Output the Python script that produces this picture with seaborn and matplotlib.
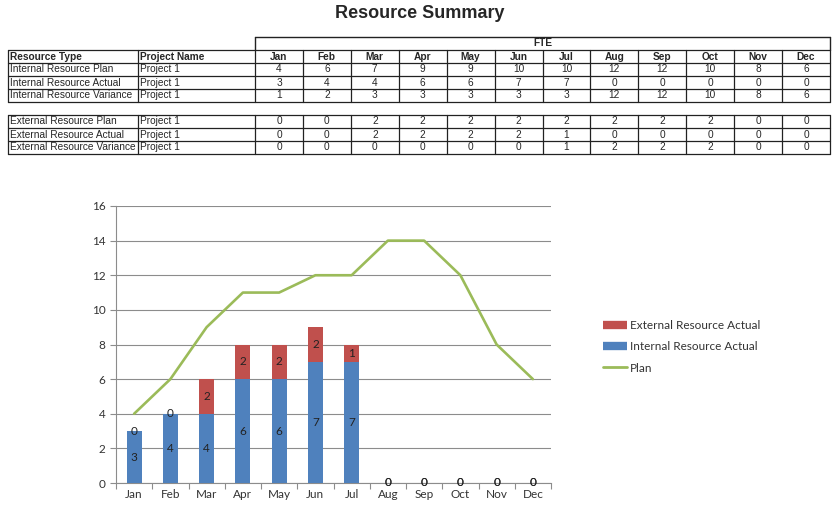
import numpy as np
import matplotlib
matplotlib.use('Agg')
import matplotlib.pyplot as plt
from matplotlib.lines import Line2D
import seaborn as sns

# table / chart data
months = ['Jan', 'Feb', 'Mar', 'Apr', 'May', 'Jun', 'Jul', 'Aug', 'Sep', 'Oct', 'Nov', 'Dec']
row_names_int = ['Internal Resource Plan', 'Internal Resource Actual', 'Internal Resource Variance']
row_names_ext = ['External Resource Plan', 'External Resource Actual', 'External Resource Variance']
project = 'Project 1'

int_plan = [4, 6, 7, 9, 9, 10, 10, 12, 12, 10, 8, 6]
int_actual = [3, 4, 4, 6, 6, 7, 7, 0, 0, 0, 0, 0]
int_var = [1, 2, 3, 3, 3, 3, 3, 12, 12, 10, 8, 6]
ext_plan = [0, 0, 2, 2, 2, 2, 2, 2, 2, 2, 0, 0]
ext_actual = [0, 0, 2, 2, 2, 2, 1, 0, 0, 0, 0, 0]
ext_var = [0, 0, 0, 0, 0, 0, 1, 2, 2, 2, 0, 0]
plan_total = [4, 6, 9, 11, 11, 12, 12, 14, 14, 12, 8, 6]

RED = '#C0504D'
BLUE = '#4F81BD'
GREEN = '#9BBB59'

sns.set_style('white')
plt.rcParams['font.family'] = ['Liberation Sans', 'DejaVu Sans']

fig = plt.figure(figsize=(8.4, 5.17), dpi=100)

# ---- table drawn in pixel coordinates ----
tax = fig.add_axes([0, 0, 1, 1])
tax.set_xlim(0, 840)
tax.set_ylim(517, 0)
tax.axis('off')

tax.text(420, 13, 'Resource Summary', ha='center', va='center', fontsize=13, fontweight='bold')

x_left, x_proj, x_m0, x_right = 8, 138, 255, 830
m_edges = np.linspace(x_m0, x_right, 13)
m_centers = (m_edges[:-1] + m_edges[1:]) / 2
lc = '#222222'
fs_tab = 7.3

# FTE header
tax.plot([x_m0, x_right], [37, 37], color=lc, lw=1.0)
tax.plot([x_m0, x_m0], [37, 50], color=lc, lw=1.0)
tax.plot([x_right, x_right], [37, 50], color=lc, lw=1.0)
tax.text((x_m0 + x_right) / 2, 43.5, 'FTE', ha='center', va='center', fontsize=fs_tab, fontweight='bold')


def draw_block(top, rows, values, header=False):
    n = len(rows)
    ys = [top + 13 * i for i in range(n + 1)]
    for y in ys:
        tax.plot([x_left, x_right], [y, y], color=lc, lw=0.9)
    for x in [x_left, x_proj] + list(m_edges):
        tax.plot([x, x], [ys[0], ys[-1]], color=lc, lw=0.9)
    for i, (name, vals) in enumerate(zip(rows, values)):
        yc = (ys[i] + ys[i + 1]) / 2
        fw = 'bold' if header and i == 0 else 'normal'
        tax.text(x_left + 2, yc, name, ha='left', va='center', fontsize=fs_tab, fontweight=fw)
        tax.text(x_proj + 2, yc, vals[0], ha='left', va='center', fontsize=fs_tab, fontweight=fw)
        for xc, v in zip(m_centers, vals[1]):
            tax.text(xc, yc, str(v), ha='center', va='center', fontsize=fs_tab, fontweight=fw)


draw_block(50,
           ['Resource Type'] + row_names_int,
           [('Project Name', months), (project, int_plan), (project, int_actual), (project, int_var)],
           header=True)
draw_block(115,
           row_names_ext,
           [(project, ext_plan), (project, ext_actual), (project, ext_var)])

# ---- chart ----
plt.rcParams['font.family'] = ['Lato', 'DejaVu Sans']
ax = fig.add_axes([116 / 840, 1 - 483 / 517, 435 / 840, 277 / 517])
ax.set_facecolor('none')

pos = np.arange(len(months))
sns.barplot(x=months, y=int_actual, color=BLUE, width=0.41, saturation=1, ax=ax,
            zorder=3, edgecolor='none', linewidth=0)
sns.barplot(x=months, y=ext_actual, bottom=int_actual, color=RED, width=0.41, saturation=1, ax=ax,
            zorder=3, edgecolor='none', linewidth=0)
sns.lineplot(x=pos, y=plan_total, color=GREEN, lw=1.9, ax=ax, zorder=4)

for i in pos:
    ax.text(i, int_actual[i] / 2, str(int_actual[i]), ha='center', va='center',
            fontsize=8.5, color='#222222', zorder=5)
    ax.text(i, int_actual[i] + ext_actual[i] / 2, str(ext_actual[i]), ha='center', va='center',
            fontsize=8.5, color='#222222', zorder=5)

ax.set_xlim(-0.5, 11.5)
ax.set_ylim(0, 16)
ax.set_yticks(range(0, 17, 2))
ax.set_xticks(pos)
ax.set_xticklabels(months)
ax.set_xticks(np.arange(-0.5, 12, 1), minor=True)
ax.yaxis.grid(True, color='#8c8c8c', lw=0.8, zorder=0)
ax.tick_params(axis='y', left=True, length=4, width=0.8, color='#8c8c8c', labelsize=8.5, labelcolor='#333333')
ax.tick_params(axis='x', which='major', bottom=False, length=0, labelsize=8.5, labelcolor='#333333', pad=4)
ax.tick_params(axis='x', which='minor', bottom=True, length=4, width=0.8, color='#8c8c8c')
for s in ['top', 'right']:
    ax.spines[s].set_visible(False)
for s in ['left', 'bottom']:
    ax.spines[s].set_color('#8c8c8c')
    ax.spines[s].set_linewidth(0.8)
ax.set_xlabel('')
ax.set_ylabel('')

handles = [Line2D([], [], color=RED, lw=6, solid_capstyle='butt'),
           Line2D([], [], color=BLUE, lw=6, solid_capstyle='butt'),
           Line2D([], [], color=GREEN, lw=2)]
fig.legend(handles, ['External Resource Actual', 'Internal Resource Actual', 'Plan'],
           loc='center left', bbox_to_anchor=(592 / 840, 1 - 347 / 517), frameon=False,
           fontsize=8.5, handlelength=2.1, handletextpad=0.2, labelspacing=0.85,
           labelcolor='#333333')

fig.savefig('out.png', dpi=100)
